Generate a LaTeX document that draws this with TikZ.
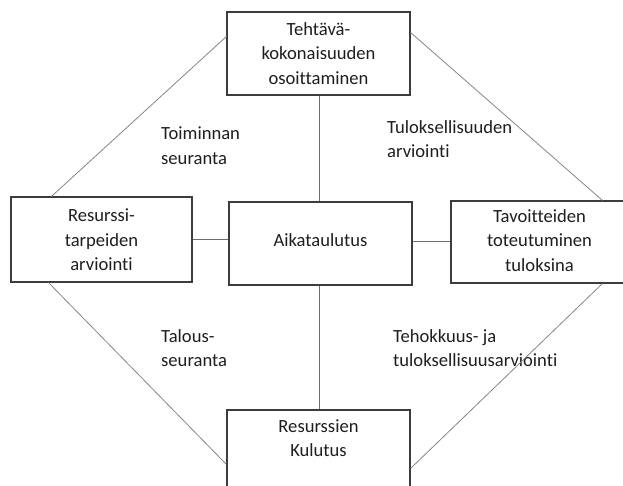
\documentclass[tikz,border=0pt]{standalone}
\usepackage{fontspec}
\setmainfont[Ligatures=NoCommon]{Carlito}
\usetikzlibrary{calc}
\definecolor{boxc}{HTML}{3C3C3C}
\definecolor{linkc}{HTML}{6E6E6E}
\definecolor{diagc}{HTML}{858585}
\definecolor{txtc}{HTML}{1E1E1E}
\begin{document}
\begin{tikzpicture}[x=1pt,y=-1pt,
  boxshape/.style={draw=boxc, line width=1.1pt, rectangle, inner sep=0pt},
  boxtext/.style={anchor=north, align=center, inner sep=0pt, text=txtc,
    font=\fontsize{18.6}{24.5}\selectfont},
  lbl/.style={anchor=north west, align=left, inner sep=0pt, text=txtc,
    font=\fontsize{18.6}{24.5}\selectfont},
  link/.style={draw=linkc, line width=0.9pt},
  diag/.style={draw=diagc, line width=0.8pt}]
\useasboundingbox (0,0) rectangle (623,486);
\clip (0,0) rectangle (623,486);

% boxes
\node[boxshape, minimum width=183pt, minimum height=83pt] (top) at (318.5,53.5) {};
\node[boxshape, minimum width=181pt, minimum height=85pt] (left) at (101.5,239.5) {};
\node[boxshape, minimum width=183pt, minimum height=83pt] (mid) at (320.5,243.5) {};
\node[boxshape, minimum width=177pt, minimum height=82pt] (right) at (539.5,242) {};
\node[boxshape, minimum width=183pt, minimum height=90pt] (bot) at (318.5,455) {};

% box texts
\node[boxtext] (toptxt) at (318.5,22) {Tehtävä-\\kokonaisuuden\\osoittaminen};
\node[boxtext] (lefttxt) at (101.5,209) {Resurssi-\\tarpeiden\\arviointi};
\node[boxtext] (midtxt) at (320.5,233) {Aikataulutus};
\node[boxtext] (righttxt) at (539.5,209) {Tavoitteiden\\toteutuminen\\tuloksina};
\node[boxtext] (bottxt) at (318.5,419) {Resurssien\\Kulutus};

% side labels
\node[lbl] (l1) at (161,127) {Toiminnan\\seuranta};
\node[lbl] (l2) at (387,120) {Tuloksellisuuden\\arviointi};
\node[lbl] (l3) at (161,329) {Talous-\\seuranta};
\node[lbl] (l4) at (393,329) {Tehokkuus- ja\\tuloksellisuusarviointi};

% straight links
\coordinate (vt1) at ($(top.south)+(0.5,0)$);
\coordinate (vb1) at ($(bot.north)+(0.5,0)$);
\coordinate (hr1) at ($(mid.east)+(0,-2)$);
\draw[link] (vt1) -- (vt1 |- mid.north);
\draw[link] (vb1 |- mid.south) -- (vb1);
\draw[link] (left.east) -- (left.east -| mid.west);
\draw[link] (hr1) -- (hr1 -| right.west);

% diagonal links
\coordinate (tl1) at ($(left.north west)+(41,0)$);
\coordinate (tl2) at ($(top.north west)+(0,25)$);
\coordinate (tr1) at ($(top.north east)+(0,21)$);
\coordinate (tr2) at ($(right.north west)+(152,0)$);
\coordinate (bl1) at ($(left.south west)+(38,0)$);
\coordinate (bl2) at ($(bot.north west)+(0,55)$);
\coordinate (br1) at ($(right.south west)+(152,0)$);
\coordinate (br2) at ($(bot.north east)+(0,59)$);
\draw[diag] (tl1) -- (tl2);
\draw[diag] (tr1) -- (tr2);
\draw[diag] (bl1) -- (bl2);
\draw[diag] (br1) -- (br2);
\end{tikzpicture}
\end{document}
